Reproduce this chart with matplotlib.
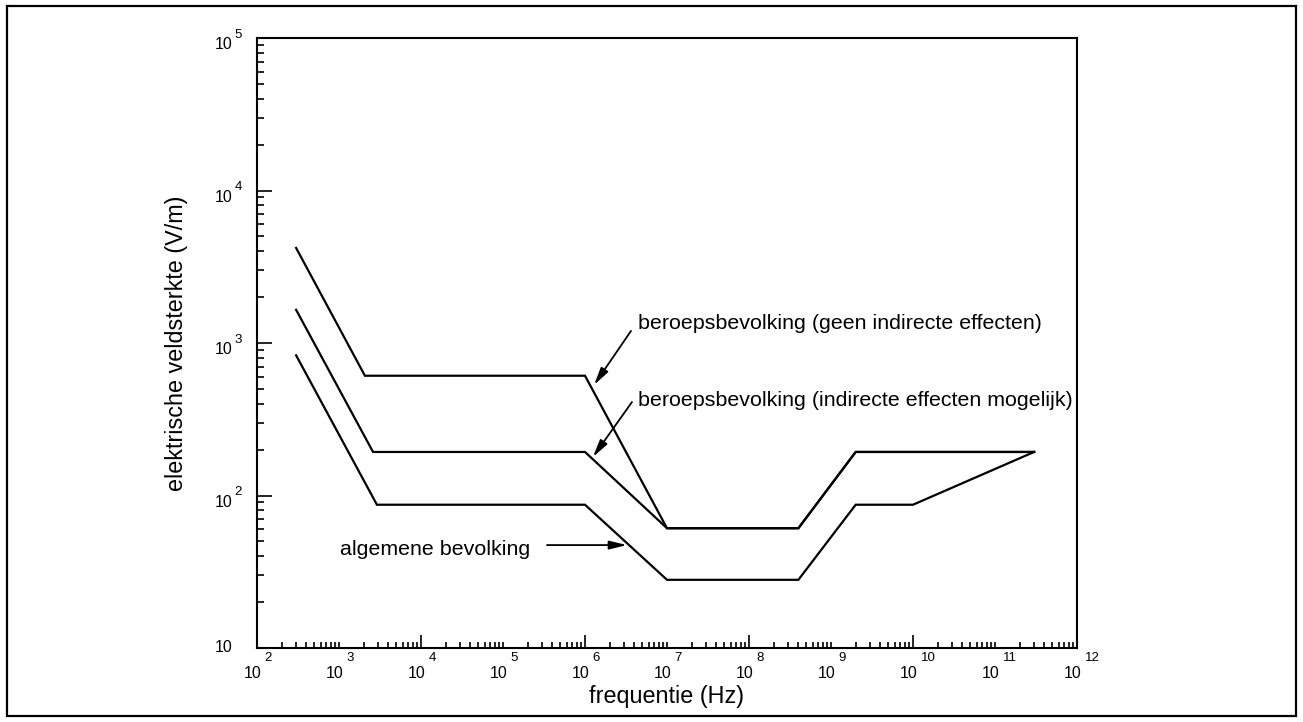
import numpy as np
import matplotlib
matplotlib.use('Agg')
import matplotlib.pyplot as plt
from matplotlib.patches import Rectangle

plt.rcParams['font.family'] = ['Liberation Sans', 'DejaVu Sans']

# grenswaarden
f_geen = [300, 2070, 1e6, 1e7, 4e8, 2e9, 3e11]
E_geen = [4200, 610, 610, 61, 61, 193, 193]

f_indir = [300, 2600, 1e6, 1e7, 4e8, 2e9, 3e11]
E_indir = [1650, 193, 193, 61, 61, 193, 193]

f_alg = [300, 2900, 1e6, 1e7, 4e8, 2e9, 1e10, 3e11]
E_alg = [830, 87, 87, 28, 28, 87, 87, 193]

labels = ['beroepsbevolking (geen indirecte effecten)',
          'beroepsbevolking (indirecte effecten mogelijk)',
          'algemene bevolking']
# (tekst-positie, pijl-start, pijl-punt) in data
label_xy = [(4.43e6, 1352), (4.43e6, 417), (1028, 44)]
arrow_from = [(3.64e6, 1200), (3.74e6, 410), (3.44e5, 47.3)]
arrow_to = [(1.29e6, 531), (1.25e6, 179), (3.25e6, 47.3)]

x_decades = np.arange(2, 13)
y_decades = np.arange(1, 6)

fig = plt.figure(figsize=(13.03, 7.22), dpi=100)
ax = fig.add_axes([257/1303, 1-648/722, 820/1303, 610/722])

for f, E in [(f_geen, E_geen), (f_indir, E_indir), (f_alg, E_alg)]:
    ax.plot(f, E, color='k', linewidth=1.6, solid_joinstyle='miter')

ax.set_xscale('log')
ax.set_yscale('log')
ax.set_xlim(1e2, 1e12)
ax.set_ylim(10, 1e5)

# ticks
xmaj = [10.0**k for k in x_decades if k % 2 == 0]
xmin = [m*10.0**k for k in x_decades[:-1] for m in range(1, 10)]
xmin = [v for v in xmin if v not in xmaj]
ax.set_xticks(xmaj)
ax.set_xticks(xmin, minor=True)
ymaj = [10.0**k for k in y_decades]
ymin = [m*10.0**k for k in y_decades[:-1] for m in range(2, 10)]
ax.set_yticks(ymaj)
ax.set_yticks(ymin, minor=True)
ax.tick_params(axis='both', which='both', direction='in', width=1.2,
               labelbottom=False, labelleft=False, top=False, right=False)
ax.tick_params(axis='x', which='major', length=9.5)
ax.tick_params(axis='x', which='minor', length=4.5)
ax.tick_params(axis='y', which='major', length=11)
ax.tick_params(axis='y', which='minor', length=5)
for s in ax.spines.values():
    s.set_linewidth(1.5)

# tick labels als 10 + exponent
for k in x_decades:
    ax.annotate('10', xy=(10.0**k, 0), xycoords=('data', 'axes fraction'),
                xytext=(-3.2, -18.4), textcoords='offset points',
                ha='center', va='center', fontsize=11.5)
    ax.annotate(str(k), xy=(10.0**k, 0), xycoords=('data', 'axes fraction'),
                xytext=(5.5, -7.5), textcoords='offset points',
                ha='left', va='center', fontsize=9.5)
for k in y_decades:
    dy = 0 if k == 1 else -5
    ax.annotate('10', xy=(0, 10.0**k), xycoords=('axes fraction', 'data'),
                xytext=(-18, dy), textcoords='offset points',
                ha='right', va='center', fontsize=11.5)
    if k > 1:
        ax.annotate(str(k), xy=(0, 10.0**k), xycoords=('axes fraction', 'data'),
                    xytext=(-16, 2.5), textcoords='offset points',
                    ha='left', va='center', fontsize=9.5)

ax.set_xlabel('frequentie (Hz)', fontsize=16.8, labelpad=27)
ax.set_ylabel('elektrische veldsterkte (V/m)', fontsize=16.8, labelpad=50)

for lab, pos, a0, a1 in zip(labels, label_xy, arrow_from, arrow_to):
    ax.text(pos[0], pos[1], lab, fontsize=15.4, ha='left', va='center')
    ax.annotate('', xy=a1, xytext=a0,
                arrowprops=dict(arrowstyle='-|>,head_length=0.7,head_width=0.17',
                                mutation_scale=15, color='k', lw=1.3,
                                shrinkA=0, shrinkB=0))

fig.patches.append(Rectangle((7/1303, 6/722), 1289/1303, 710/722,
                             transform=fig.transFigure, fill=False,
                             edgecolor='k', linewidth=1.6))

plt.savefig('out.png', dpi=100)
plt.close(fig)
